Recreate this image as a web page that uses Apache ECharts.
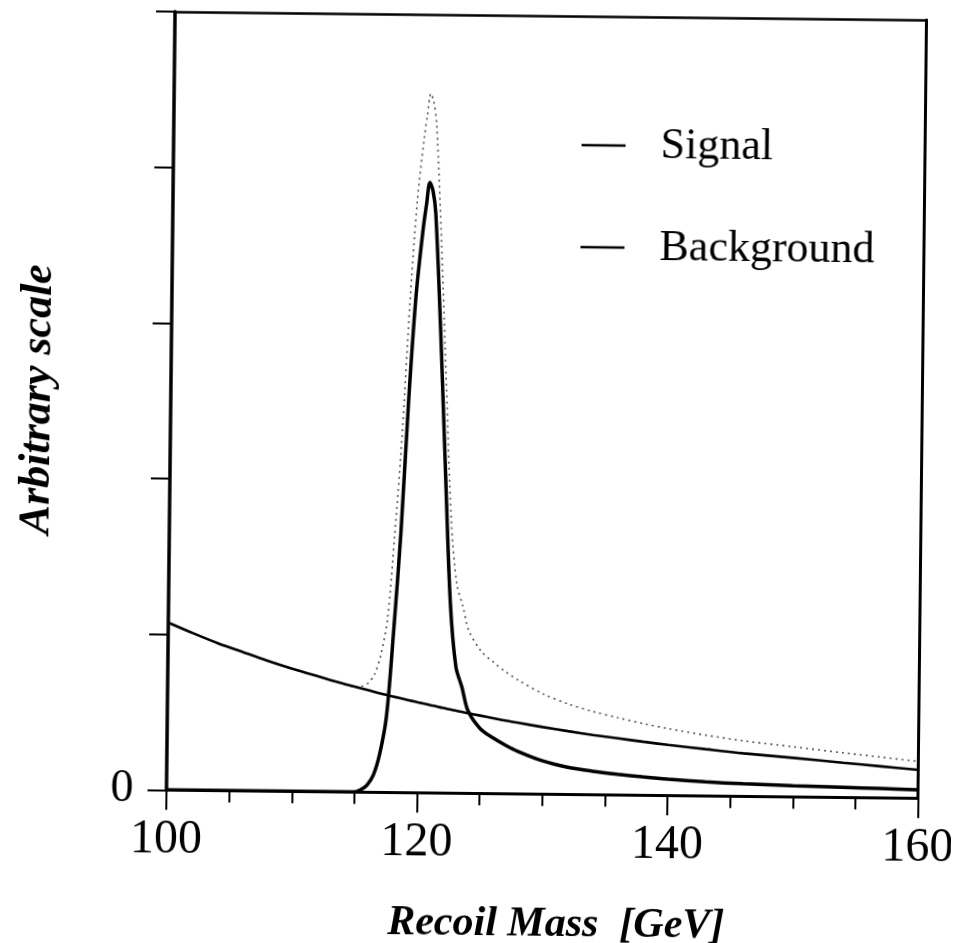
<!DOCTYPE html>
<html>
<head>
<meta charset="utf-8">
<script src="https://cdn.jsdelivr.net/npm/echarts@6/dist/echarts.min.js"></script>
<style>
html,body{margin:0;padding:0;background:#fff;overflow:hidden;}
#chart{width:955px;height:943px;transform:rotate(0.63deg);transform-origin:50% 50%;}
</style>
</head>
<body>
<div id="chart"></div>
<script>
// Recoil mass (GeV) sample positions
const recoilMass = [100,102,104,106,108,110,112,114,115,115.5,116,116.5,117,117.5,118,118.5,119,119.5,120,120.25,120.5,120.75,121,121.5,122,122.5,123,123.5,124,125,126,127,128,130,132,134,136,138,140,143,146,150,154,157,160];
// Signal curve (arbitrary scale)
const signalValues = [0,0,0,0,0,0,0,0,0,0.015,0.045,0.11,0.25,0.49,1.04,1.68,2.53,3.2,3.62,3.78,3.92,3.87,3.72,2.95,2.06,1.22,0.81,0.68,0.53,0.415,0.358,0.312,0.273,0.213,0.174,0.15,0.132,0.117,0.104,0.09,0.08,0.071,0.064,0.059,0.054];
// Background curve
const backgroundValues = [1.075,1.008,0.945,0.89,0.836,0.786,0.74,0.695,0.675,0.665,0.655,0.645,0.634,0.625,0.616,0.607,0.598,0.589,0.58,0.576,0.572,0.568,0.563,0.555,0.546,0.538,0.53,0.522,0.514,0.499,0.484,0.469,0.456,0.43,0.406,0.383,0.363,0.343,0.325,0.30,0.276,0.25,0.222,0.202,0.182];
// Dotted curve (signal + background as drawn)
const totalValues = [1.075,1.008,0.945,0.89,0.836,0.786,0.74,0.695,0.675,0.68,0.70,0.755,0.884,1.115,1.656,2.287,3.128,3.789,4.2,4.356,4.492,4.438,4.283,3.505,2.606,1.758,1.34,1.202,1.044,0.914,0.842,0.781,0.729,0.643,0.58,0.533,0.495,0.46,0.429,0.39,0.356,0.321,0.286,0.261,0.236];
const yTickLabels = ['0'];
const legendNames = ['Signal','Background'];

const pair = (ys) => recoilMass.map((x, i) => [x, ys[i]]);
const serif = 'Liberation Serif';

const chart = echarts.init(document.getElementById('chart'), null, {renderer: 'canvas'});
chart.setOption({
  animation: false,
  backgroundColor: '#fff',
  grid: {left: 170, right: 33.5, top: 15, bottom: 149.7, containLabel: false, outerBoundsMode: 'none'},
  legend: {
    data: legendNames,
    orient: 'vertical',
    left: 573,
    top: 111,
    itemWidth: 44,
    itemHeight: 14,
    itemGap: 46,
    icon: 'path://M0,5.7 L44,5.7 L44,8.3 L0,8.3 Z',
    textStyle: {fontFamily: serif, fontSize: 44, color: '#000', lineHeight: 44, padding: [12, 0, 0, 30]},
    itemStyle: {color: '#000'},
    selectedMode: false
  },
  xAxis: [{
    type: 'value', min: 100, max: 160, interval: 20, position: 'bottom',
    name: 'Recoil Mass  [GeV]', nameLocation: 'middle', nameGap: 110,
    nameTextStyle: {fontFamily: serif, fontSize: 42, fontWeight: 'bold', fontStyle: 'italic', color: '#000', padding: [0, 0, 0, 30]},
    axisLine: {show: true, onZero: false, lineStyle: {color: '#000', width: 3}},
    axisTick: {show: true, inside: false, length: 20, lineStyle: {color: '#000', width: 2}},
    minorTick: {show: true, splitNumber: 4, length: 12, lineStyle: {color: '#000', width: 2}},
    axisLabel: {fontFamily: serif, fontSize: 48, color: '#000', margin: 26},
    splitLine: {show: false}
  }, {
    type: 'value', min: 100, max: 160, position: 'top',
    axisLine: {show: true, onZero: false, lineStyle: {color: '#000', width: 2.5}},
    axisTick: {show: false}, axisLabel: {show: false}, splitLine: {show: false}
  }],
  yAxis: [{
    type: 'value', min: 0, max: 5, interval: 1, position: 'left',
    name: 'Arbitrary scale', nameLocation: 'middle', nameGap: 110,
    nameTextStyle: {fontFamily: serif, fontSize: 44, fontWeight: 'bold', fontStyle: 'italic', color: '#000'},
    axisLine: {show: true, onZero: false, lineStyle: {color: '#000', width: 3.5}},
    axisTick: {show: true, inside: false, length: 19, lineStyle: {color: '#000', width: 2}},
    axisLabel: {fontFamily: serif, fontSize: 46, color: '#000', margin: 33,
      formatter: (v) => (v === 0 ? yTickLabels[0] : '')},
    splitLine: {show: false}
  }, {
    type: 'value', min: 0, max: 5, position: 'right',
    axisLine: {show: true, onZero: false, lineStyle: {color: '#000', width: 3}},
    axisTick: {show: false}, axisLabel: {show: false}, splitLine: {show: false}
  }],
  series: [
    {
      name: 'Total', type: 'line', data: pair(totalValues), symbol: 'none', smooth: 0.3,
      lineStyle: {color: '#555', width: 1.6, type: [2, 4]}, z: 1
    },
    {
      name: 'Background', type: 'line', data: pair(backgroundValues), symbol: 'none', smooth: 0.3,
      lineStyle: {color: '#000', width: 2.6}, itemStyle: {color: '#000'}, z: 2
    },
    {
      name: 'Signal', type: 'line', data: pair(signalValues), symbol: 'none', smooth: 0.3,
      lineStyle: {color: '#000', width: 3.5}, itemStyle: {color: '#000'}, z: 3
    }
  ]
});
</script>
</body>
</html>
